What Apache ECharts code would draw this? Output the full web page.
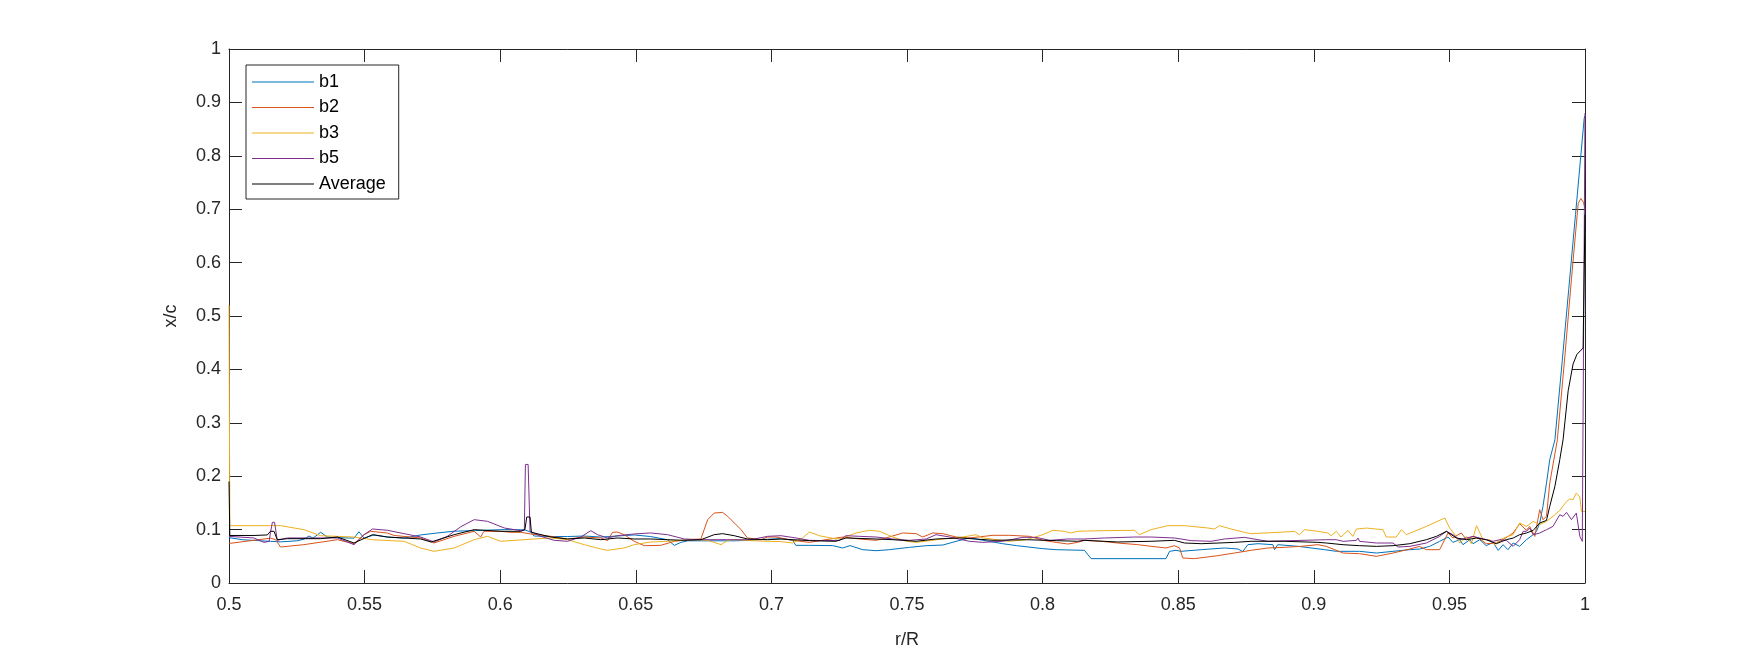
<!DOCTYPE html>
<html>
<head>
<meta charset="utf-8">
<script src="https://cdn.jsdelivr.net/npm/echarts@6/dist/echarts.min.js"></script>
<style>
html,body{margin:0;padding:0;background:#fff;}
#chart{width:1750px;height:656px;}
</style>
</head>
<body>
<div id="chart"></div>
<script>
const seriesNames = ['b1', 'b2', 'b3', 'b5', 'Average'];
const xTickLabels = ['0.5','0.55','0.6','0.65','0.7','0.75','0.8','0.85','0.9','0.95','1'];
const yTickLabels = ['0','0.1','0.2','0.3','0.4','0.5','0.6','0.7','0.8','0.9','1'];
const xLabel = 'r/R';
const yLabel = 'x/c';

const b1 = [[0.5,0.085],[0.505,0.081],[0.512,0.079],[0.5153,0.078],[0.519,0.077],[0.525,0.079],[0.5276,0.082],[0.5295,0.088],[0.531,0.084],[0.5338,0.095],[0.5363,0.086],[0.54,0.085],[0.5461,0.084],[0.5479,0.096],[0.5498,0.084],[0.5535,0.090],[0.5584,0.086],[0.5646,0.084],[0.5707,0.090],[0.5756,0.093],[0.583,0.097],[0.5904,0.098],[0.5953,0.099],[0.6015,0.100],[0.6064,0.100],[0.6094,0.099],[0.6113,0.095],[0.6125,0.088],[0.6187,0.087],[0.6248,0.087],[0.631,0.088],[0.6371,0.086],[0.6432,0.088],[0.6494,0.090],[0.6555,0.087],[0.6617,0.081],[0.6642,0.0705],[0.6666,0.076],[0.6691,0.079],[0.674,0.079],[0.68,0.079],[0.6863,0.079],[0.6925,0.080],[0.6986,0.082],[0.7035,0.083],[0.7078,0.080],[0.709,0.0705],[0.714,0.0705],[0.7226,0.070],[0.7263,0.0656],[0.729,0.070],[0.7337,0.0624],[0.7386,0.0605],[0.7435,0.0624],[0.7509,0.0668],[0.7571,0.0699],[0.7632,0.0711],[0.7681,0.078],[0.773,0.0843],[0.778,0.080],[0.7853,0.0736],[0.7903,0.070],[0.8001,0.0643],[0.805,0.0624],[0.8154,0.0612],[0.8179,0.0456],[0.8455,0.0456],[0.8468,0.0593],[0.8492,0.0612],[0.851,0.0593],[0.8585,0.0624],[0.8671,0.0656],[0.872,0.0637],[0.8738,0.059],[0.8757,0.0718],[0.8794,0.0736],[0.8849,0.0718],[0.8855,0.0624],[0.8867,0.0718],[0.8941,0.0687],[0.899,0.0656],[0.904,0.0624],[0.9083,0.0593],[0.9169,0.0593],[0.9231,0.0561],[0.9292,0.0593],[0.9354,0.0624],[0.939,0.0636],[0.9427,0.0686],[0.9464,0.078],[0.9495,0.0861],[0.9513,0.0761],[0.9538,0.0811],[0.955,0.0717],[0.9575,0.0811],[0.9587,0.0736],[0.9612,0.0811],[0.9636,0.0699],[0.9661,0.0761],[0.968,0.0611],[0.9698,0.0717],[0.9716,0.0624],[0.9735,0.0749],[0.9759,0.0686],[0.9784,0.0811],[0.9809,0.0905],[0.9821,0.0967],[0.9833,0.1123],[0.9845,0.1435],[0.9858,0.187],[0.987,0.231],[0.9889,0.268],[0.9915,0.41],[0.994,0.55],[0.9965,0.69],[0.9997,0.87],[1.0,0.875]];

const b2 = [[0.5,0.074],[0.5092,0.080],[0.5153,0.084],[0.5172,0.081],[0.519,0.0674],[0.5276,0.0718],[0.54,0.0811],[0.5461,0.0736],[0.5467,0.070],[0.5498,0.0905],[0.5522,0.0968],[0.5584,0.0936],[0.5609,0.089],[0.5707,0.0843],[0.5756,0.0749],[0.583,0.0874],[0.5904,0.0968],[0.5928,0.0861],[0.594,0.0968],[0.6002,0.0968],[0.6039,0.0949],[0.6076,0.0949],[0.6113,0.0918],[0.6187,0.0874],[0.6248,0.0824],[0.631,0.0861],[0.6371,0.0843],[0.6396,0.0793],[0.6414,0.0949],[0.6432,0.0955],[0.6457,0.0905],[0.6494,0.0781],[0.6531,0.0699],[0.6592,0.0705],[0.6642,0.0781],[0.6691,0.0811],[0.674,0.0824],[0.6765,0.1186],[0.6789,0.131],[0.682,0.1322],[0.6839,0.1248],[0.6888,0.0999],[0.6912,0.0843],[0.6961,0.0811],[0.6986,0.0861],[0.7017,0.0861],[0.7078,0.0799],[0.714,0.0761],[0.7201,0.0811],[0.7263,0.0861],[0.7325,0.0824],[0.7386,0.0799],[0.7423,0.0843],[0.7484,0.0937],[0.7534,0.0924],[0.7558,0.0861],[0.7595,0.0937],[0.7632,0.0924],[0.7681,0.0861],[0.773,0.0843],[0.7817,0.0893],[0.7878,0.0893],[0.7952,0.0874],[0.8001,0.0799],[0.805,0.0761],[0.8093,0.073],[0.8129,0.0761],[0.8154,0.0799],[0.8216,0.0781],[0.8277,0.0749],[0.8351,0.0718],[0.84,0.0687],[0.8455,0.0656],[0.8486,0.0699],[0.8505,0.0656],[0.8517,0.0468],[0.856,0.0456],[0.8646,0.0512],[0.8708,0.0562],[0.8769,0.0612],[0.8831,0.0656],[0.8892,0.0668],[0.8953,0.0687],[0.9015,0.0718],[0.9046,0.0686],[0.9108,0.0561],[0.9169,0.0549],[0.9231,0.0499],[0.9292,0.0561],[0.9354,0.0636],[0.939,0.0686],[0.9415,0.0624],[0.9464,0.0624],[0.9495,0.0936],[0.9513,0.0842],[0.9532,0.0905],[0.9544,0.0936],[0.9563,0.0811],[0.9587,0.0873],[0.9612,0.0824],[0.9636,0.0736],[0.9673,0.0749],[0.9698,0.0811],[0.9735,0.0936],[0.9759,0.111],[0.9784,0.0986],[0.9796,0.106],[0.9815,0.0873],[0.9833,0.1373],[0.9845,0.1186],[0.9858,0.1248],[0.987,0.187],[0.9898,0.268],[0.9926,0.426],[0.995,0.569],[0.9975,0.711],[0.9985,0.72],[0.9995,0.712],[1.0,0.70]];

const b3 = [[0.5,0.52],[0.5003,0.1074],[0.5153,0.1074],[0.519,0.1074],[0.5276,0.0999],[0.5338,0.0886],[0.5461,0.0861],[0.5529,0.0811],[0.5646,0.078],[0.5707,0.0655],[0.5756,0.0593],[0.583,0.0655],[0.5904,0.0811],[0.5953,0.0874],[0.6002,0.0781],[0.6125,0.0824],[0.6187,0.0843],[0.6248,0.0811],[0.631,0.0718],[0.6371,0.0637],[0.6396,0.0612],[0.6457,0.0656],[0.6494,0.0718],[0.6555,0.0768],[0.6617,0.0781],[0.6679,0.0799],[0.6715,0.0811],[0.6765,0.0799],[0.6789,0.0761],[0.6814,0.0718],[0.6839,0.0799],[0.6863,0.0811],[0.6925,0.0793],[0.6986,0.0781],[0.7035,0.0775],[0.7078,0.0749],[0.7115,0.0843],[0.714,0.0955],[0.7177,0.0886],[0.7238,0.0824],[0.7263,0.0843],[0.7312,0.0937],[0.7361,0.0987],[0.7398,0.0968],[0.7448,0.0861],[0.7497,0.0781],[0.7534,0.0761],[0.7632,0.0824],[0.7706,0.0861],[0.7755,0.0905],[0.778,0.0843],[0.7878,0.0781],[0.794,0.0811],[0.8001,0.0905],[0.8038,0.0987],[0.808,0.0968],[0.8105,0.0937],[0.8129,0.0968],[0.8216,0.098],[0.8339,0.0987],[0.8357,0.0905],[0.84,0.0999],[0.8462,0.1074],[0.8523,0.1074],[0.8609,0.103],[0.8634,0.1011],[0.8652,0.1074],[0.8695,0.1011],[0.8744,0.0949],[0.8769,0.0924],[0.8892,0.0955],[0.8929,0.0968],[0.8947,0.0905],[0.8966,0.0999],[0.9015,0.0968],[0.9052,0.0937],[0.9064,0.0886],[0.9083,0.0967],[0.91,0.0861],[0.9126,0.0986],[0.9144,0.0873],[0.9157,0.101],[0.9194,0.1029],[0.9255,0.0998],[0.9267,0.0861],[0.9304,0.0861],[0.9323,0.0998],[0.9341,0.0905],[0.9415,0.106],[0.9483,0.1217],[0.9501,0.1029],[0.952,0.0905],[0.9538,0.0749],[0.9563,0.0873],[0.9581,0.0736],[0.96,0.1073],[0.9624,0.0811],[0.9649,0.0811],[0.9667,0.0717],[0.9686,0.0811],[0.971,0.0861],[0.9735,0.0905],[0.9759,0.1123],[0.9784,0.106],[0.9809,0.1154],[0.9833,0.1092],[0.9858,0.1154],[0.9882,0.1248],[0.9907,0.136],[0.9932,0.1528],[0.9944,0.1573],[0.9956,0.156],[0.9968,0.1685],[0.9981,0.161],[0.9987,0.134],[1.0,0.134]];

const b5 = [[0.5,0.0874],[0.5092,0.0843],[0.5129,0.0761],[0.5148,0.078],[0.5153,0.095],[0.516,0.1136],[0.5168,0.1136],[0.5178,0.0799],[0.5215,0.0843],[0.54,0.0843],[0.5461,0.0718],[0.5498,0.0905],[0.5529,0.1011],[0.5584,0.0987],[0.5646,0.0924],[0.5707,0.0861],[0.5756,0.0768],[0.5805,0.0874],[0.5855,0.1055],[0.5904,0.1186],[0.5953,0.1155],[0.6015,0.103],[0.6076,0.098],[0.6089,0.100],[0.6093,0.222],[0.6103,0.222],[0.611,0.097],[0.615,0.0874],[0.6199,0.0799],[0.6248,0.0781],[0.6297,0.0861],[0.6334,0.098],[0.6359,0.0905],[0.6396,0.0843],[0.6432,0.0886],[0.6494,0.0918],[0.6555,0.0937],[0.6617,0.0905],[0.6679,0.0824],[0.674,0.0811],[0.6863,0.0811],[0.6925,0.0811],[0.6986,0.0874],[0.7035,0.0886],[0.7091,0.0843],[0.714,0.0799],[0.7201,0.0793],[0.7251,0.0799],[0.7275,0.0886],[0.7325,0.0874],[0.7386,0.0861],[0.7448,0.0824],[0.7509,0.0799],[0.7571,0.0824],[0.7607,0.0905],[0.7657,0.0861],[0.773,0.0781],[0.7779,0.0761],[0.7853,0.0781],[0.7927,0.0855],[0.7976,0.0855],[0.8026,0.0799],[0.8093,0.0824],[0.8154,0.0824],[0.8228,0.0843],[0.8339,0.0861],[0.84,0.0861],[0.8486,0.0843],[0.851,0.0824],[0.8548,0.0793],[0.8621,0.0781],[0.8671,0.0824],[0.8744,0.0855],[0.8794,0.0811],[0.8831,0.0781],[0.9046,0.0811],[0.9083,0.0811],[0.9108,0.078],[0.9157,0.0799],[0.9163,0.0842],[0.9169,0.078],[0.9231,0.0749],[0.9292,0.0749],[0.931,0.0674],[0.9354,0.0686],[0.9415,0.0749],[0.9464,0.0873],[0.9489,0.0967],[0.9513,0.0905],[0.9538,0.0811],[0.9563,0.0842],[0.9587,0.0873],[0.9612,0.0842],[0.9636,0.0811],[0.9661,0.078],[0.9686,0.0811],[0.971,0.0799],[0.9735,0.0686],[0.9759,0.0811],[0.9772,0.0967],[0.9784,0.0967],[0.9796,0.1029],[0.9809,0.0905],[0.9833,0.0936],[0.9858,0.0998],[0.9882,0.106],[0.9907,0.1279],[0.9919,0.1248],[0.9932,0.1323],[0.995,0.1186],[0.9968,0.131],[0.9981,0.0873],[0.999,0.078],[1.0,0.88]];

const avg = [[0.5,0.19],[0.5003,0.089],[0.5092,0.089],[0.5141,0.090],[0.5153,0.0968],[0.5166,0.0968],[0.5178,0.0811],[0.5215,0.083],[0.5338,0.083],[0.54,0.0861],[0.5461,0.0749],[0.5529,0.0905],[0.5584,0.0861],[0.5707,0.0824],[0.5745,0.0768],[0.583,0.0905],[0.5904,0.0999],[0.6002,0.0968],[0.6076,0.0968],[0.6091,0.0999],[0.6098,0.1236],[0.611,0.1236],[0.6115,0.0949],[0.6187,0.0861],[0.6248,0.0824],[0.631,0.0843],[0.6371,0.0811],[0.6432,0.0843],[0.6494,0.0824],[0.6555,0.0824],[0.6617,0.0811],[0.6679,0.0799],[0.674,0.0811],[0.6789,0.0905],[0.682,0.0924],[0.6863,0.0886],[0.6912,0.0824],[0.6986,0.0811],[0.7035,0.0824],[0.714,0.0793],[0.7238,0.0781],[0.7275,0.0843],[0.7386,0.0824],[0.7448,0.0811],[0.7534,0.0781],[0.7607,0.0824],[0.7694,0.0843],[0.7755,0.0824],[0.7817,0.0799],[0.794,0.0811],[0.805,0.0793],[0.8129,0.0781],[0.8154,0.0799],[0.8277,0.0768],[0.84,0.0781],[0.8486,0.0799],[0.8523,0.0749],[0.8585,0.0736],[0.8708,0.0761],[0.8769,0.0781],[0.8892,0.0781],[0.9015,0.0761],[0.9046,0.0749],[0.9108,0.0717],[0.9169,0.0699],[0.9231,0.0686],[0.9292,0.0699],[0.9354,0.0736],[0.9415,0.0811],[0.9452,0.0873],[0.9489,0.0967],[0.9526,0.0842],[0.9563,0.0811],[0.96,0.0842],[0.9636,0.0811],[0.9673,0.0736],[0.971,0.0811],[0.9735,0.0842],[0.9759,0.0905],[0.9784,0.0936],[0.9809,0.0986],[0.9833,0.1123],[0.9858,0.1173],[0.987,0.1435],[0.9889,0.181],[0.9907,0.231],[0.9919,0.268],[0.9938,0.36],[0.9956,0.41],[0.997,0.428],[0.9985,0.436],[0.9993,0.44],[1.0,0.69]];

const seriesData = [b1, b2, b3, b5, avg];
const colors = ['#0072BD', '#D95319', '#EDB120', '#7E2F8E', '#000000'];

const axisColor = '#262626';
const font = 'Liberation Sans, Arial, Helvetica, sans-serif';
const fmtX = v => xTickLabels.find(t => Math.abs(parseFloat(t) - v) < 1e-6) || '';
const fmtY = v => yTickLabels.find(t => Math.abs(parseFloat(t) - v) < 1e-6) || '';

const baseAxis = {
  type: 'value',
  axisLine: { show: true, onZero: false, lineStyle: { color: axisColor, width: 1 } },
  axisTick: { show: true, inside: true, length: 13, lineStyle: { color: axisColor, width: 1 } },
  splitLine: { show: false },
};

const legendIcon = 'path://M0,0 H62 V1.2 H0 Z';

const chart = echarts.init(document.getElementById('chart'), null, { renderer: 'canvas' });
chart.setOption({
  animation: false,
  backgroundColor: '#ffffff',
  grid: { left: 229, right: 165, top: 49, bottom: 73, containLabel: false },
  legend: {
    orient: 'vertical',
    left: 246, top: 65,
    backgroundColor: '#ffffff',
    borderColor: axisColor, borderWidth: 1, borderRadius: 0,
    padding: [8, 13, 6, 6],
    itemWidth: 62, itemHeight: 18, itemGap: 7.5,
    icon: legendIcon,
    itemSymbolKeepAspect: true,
    textStyle: { fontFamily: font, fontSize: 18, color: '#000' },
    data: seriesNames.map(n => ({ name: n, icon: legendIcon }))
  },
  xAxis: [
    Object.assign({}, baseAxis, {
      min: 0.5, max: 1, interval: 0.05, position: 'bottom',
      axisLabel: { show: true, formatter: fmtX, fontFamily: font, fontSize: 18, color: axisColor, margin: 13 },
      name: xLabel, nameLocation: 'middle', nameGap: 48,
      nameTextStyle: { fontFamily: font, fontSize: 18, color: axisColor }
    }),
    Object.assign({}, baseAxis, {
      min: 0.5, max: 1, interval: 0.05, position: 'top',
      axisLabel: { show: false }
    })
  ],
  yAxis: [
    Object.assign({}, baseAxis, {
      min: 0, max: 1, interval: 0.1, position: 'left',
      axisLabel: { show: true, formatter: fmtY, fontFamily: font, fontSize: 18, color: axisColor, margin: 8 },
      name: yLabel, nameLocation: 'middle', nameGap: 49, nameRotate: 90,
      nameTextStyle: { fontFamily: font, fontSize: 18, color: axisColor }
    }),
    Object.assign({}, baseAxis, {
      min: 0, max: 1, interval: 0.1, position: 'right',
      axisLabel: { show: false }
    })
  ],
  series: seriesNames.map((n, i) => ({
    name: n,
    type: 'line',
    data: seriesData[i],
    xAxisIndex: 0, yAxisIndex: 0,
    symbol: 'none',
    showSymbol: false,
    smooth: false,
    lineStyle: { color: colors[i], width: 1 },
    itemStyle: { color: colors[i] },
    color: colors[i],
    z: 2 + i
  }))
});
</script>
</body>
</html>
